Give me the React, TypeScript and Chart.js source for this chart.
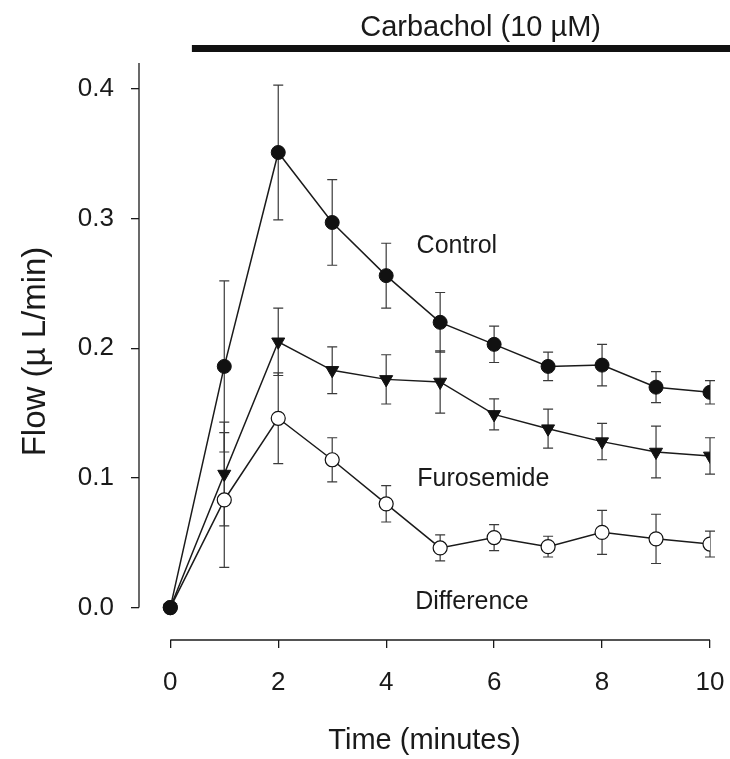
import React, { useEffect, useRef } from "react";
import { Chart, registerables } from "chart.js";

Chart.register(...registerables);

// ---- data ----
const times = [0, 1, 2, 3, 4, 5, 6, 7, 8, 9, 10];
const control = [0, 0.186, 0.351, 0.297, 0.256, 0.22, 0.203, 0.186, 0.187, 0.17, 0.166];
const controlErr = [0, 0.066, 0.052, 0.033, 0.025, 0.023, 0.014, 0.011, 0.016, 0.012, 0.009];
const furosemide = [0, 0.103, 0.205, 0.183, 0.176, 0.174, 0.149, 0.138, 0.128, 0.12, 0.117];
const furosemideErr = [0, 0.04, 0.026, 0.018, 0.019, 0.024, 0.012, 0.015, 0.014, 0.02, 0.014];
const difference = [0, 0.083, 0.146, 0.114, 0.08, 0.046, 0.054, 0.047, 0.058, 0.053, 0.049];
const differenceErr = [0, 0.052, 0.035, 0.017, 0.014, 0.01, 0.01, 0.008, 0.017, 0.019, 0.01];

const xTicks = [0, 2, 4, 6, 8, 10];
const yTicks = [0, 0.1, 0.2, 0.3, 0.4];

const seriesNames = ["Control", "Furosemide", "Difference"];
const carbacholLabel = "Carbachol (10 \u00b5M)";
const carbacholStart = 0.4; // minutes
const xTitle = "Time (minutes)";
const yTitle = "Flow (\u00b5 L/min)";

// label anchor positions (data coordinates)
const labelX = [5.31, 5.8, 5.59];
const labelY = [0.2785, 0.099, 0.004];

const FONT = "'Liberation Sans', Arial, Helvetica, sans-serif";
const INK = "#1a1a1a";

const toPts = (ys: number[]) => times.map((t, i) => ({ x: t, y: ys[i] }));

export default function App() {
  const ref = useRef<HTMLCanvasElement | null>(null);

  useEffect(() => {
    document.body.style.margin = "0";
    const canvas = ref.current;
    if (!canvas) return;

    const errs = [controlErr, furosemideErr, differenceErr];
    const vals = [control, furosemide, difference];

    const decor = {
      id: "decor",
      beforeDatasetsDraw(chart: any) {
        const { ctx } = chart;
        const xs = chart.scales.x;
        const ys = chart.scales.y;
        ctx.save();
        ctx.strokeStyle = "#3a3a3a";
        ctx.lineWidth = 1.2;
        for (let s = 0; s < 3; s++) {
          for (let i = 0; i < times.length; i++) {
            const e = errs[s][i];
            if (!e) continue;
            const px = xs.getPixelForValue(times[i]);
            const top = ys.getPixelForValue(vals[s][i] + e);
            const bot = ys.getPixelForValue(vals[s][i] - e);
            ctx.beginPath();
            ctx.moveTo(px, top);
            ctx.lineTo(px, bot);
            ctx.moveTo(px - 5, top);
            ctx.lineTo(px + 5, top);
            ctx.moveTo(px - 5, bot);
            ctx.lineTo(px + 5, bot);
            ctx.stroke();
          }
        }
        ctx.restore();
      },
      afterDraw(chart: any) {
        const { ctx, chartArea } = chart;
        const xs = chart.scales.x;
        const ys = chart.scales.y;
        ctx.save();
        ctx.strokeStyle = INK;
        ctx.lineWidth = 1.3;
        // y axis line (from 0 up)
        ctx.beginPath();
        ctx.moveTo(chartArea.left, ys.getPixelForValue(0));
        ctx.lineTo(chartArea.left, chartArea.top);
        ctx.stroke();
        // x axis line (0..10)
        ctx.beginPath();
        ctx.moveTo(xs.getPixelForValue(xTicks[0]), chartArea.bottom);
        ctx.lineTo(xs.getPixelForValue(xTicks[xTicks.length - 1]), chartArea.bottom);
        ctx.stroke();

        // carbachol bar
        const bx0 = xs.getPixelForValue(carbacholStart);
        ctx.fillStyle = "#111";
        ctx.fillRect(bx0, 45, chart.width - bx0, 7);
        ctx.font = `29px ${FONT}`;
        ctx.fillStyle = INK;
        ctx.textAlign = "center";
        ctx.textBaseline = "middle";
        ctx.fillText(carbacholLabel, xs.getPixelForValue(5.75), 28);

        // series labels
        ctx.font = `25px ${FONT}`;
        for (let i = 0; i < seriesNames.length; i++) {
          ctx.fillText(seriesNames[i], xs.getPixelForValue(labelX[i]), ys.getPixelForValue(labelY[i]));
        }
        ctx.restore();
      },
    };

    const chart = new Chart(canvas, {
      type: "line",
      data: {
        datasets: [
          {
            label: seriesNames[0],
            data: toPts(control),
            borderColor: INK,
            borderWidth: 1.5,
            pointStyle: "circle",
            pointRadius: 7,
            pointBackgroundColor: "#111",
            pointBorderColor: "#111",
            pointBorderWidth: 1,
          },
          {
            label: seriesNames[1],
            data: toPts(furosemide),
            borderColor: INK,
            borderWidth: 1.5,
            pointStyle: "triangle",
            pointRotation: 180,
            pointRadius: 7.5,
            pointBackgroundColor: "#111",
            pointBorderColor: "#111",
            pointBorderWidth: 1,
          },
          {
            label: seriesNames[2],
            data: toPts(difference),
            borderColor: INK,
            borderWidth: 1.5,
            pointStyle: "circle",
            pointRadius: 7,
            pointBackgroundColor: "#fff",
            pointBorderColor: "#111",
            pointBorderWidth: 1.2,
          },
        ],
      },
      options: {
        animation: false,
        responsive: false,
        maintainAspectRatio: false,
        layout: { padding: { left: 0, right: 20, top: 63, bottom: 0 } },
        plugins: { legend: { display: false }, tooltip: { enabled: false }, title: { display: false } },
        scales: {
          x: {
            type: "linear",
            min: -0.58,
            max: 10,
            afterBuildTicks: (axis: any) => {
              axis.ticks = xTicks.map((v) => ({ value: v }));
            },
            afterFit: (axis: any) => {
              axis.height = 119;
              axis.paddingLeft = 0;
              axis.paddingRight = 0;
            },
            grid: { display: true, drawOnChartArea: false, drawTicks: true, tickLength: 8, color: INK, lineWidth: 1.3 },
            border: { display: false },
            ticks: {
              autoSkip: false,
              maxRotation: 0,
              padding: 19,
              color: INK,
              font: { family: FONT, size: 26 },
              callback: (v: any) => String(v),
            },
            title: {
              display: true,
              text: xTitle,
              color: INK,
              font: { family: FONT, size: 29 },
              padding: { top: 0, bottom: 1 },
            },
          },
          y: {
            type: "linear",
            min: -0.025,
            max: 0.42,
            afterBuildTicks: (axis: any) => {
              axis.ticks = yTicks.map((v) => ({ value: v }));
            },
            afterFit: (axis: any) => {
              axis.width = 139;
              axis.paddingTop = 0;
              axis.paddingBottom = 0;
            },
            grid: { display: true, drawOnChartArea: false, drawTicks: true, tickLength: 8, color: INK, lineWidth: 1.3 },
            border: { display: false },
            ticks: {
              autoSkip: false,
              padding: 17,
              color: INK,
              font: { family: FONT, size: 26 },
              callback: (v: any) => Number(v).toFixed(1),
            },
            title: {
              display: true,
              text: yTitle,
              color: INK,
              font: { family: FONT, size: 33 },
              padding: { top: 16, bottom: 0 },
            },
          },
        },
      },
      plugins: [decor],
    } as any);

    return () => chart.destroy();
  }, []);

  return <canvas ref={ref} width={730} height={759} style={{ display: "block" }} />;
}
